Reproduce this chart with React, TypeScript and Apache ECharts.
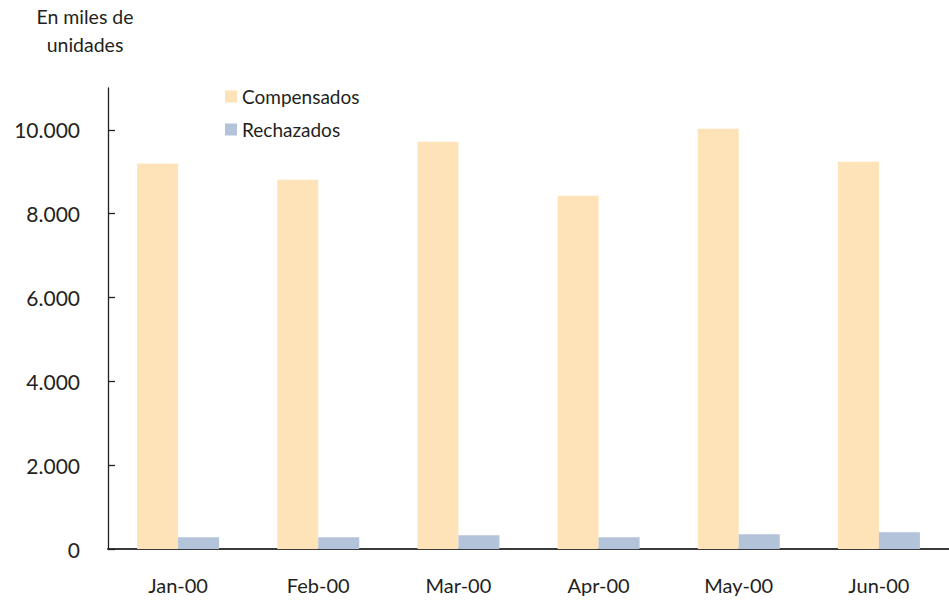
import React, { useEffect, useRef } from "react";
import * as echarts from "echarts";

const months = ["Jan-00", "Feb-00", "Mar-00", "Apr-00", "May-00", "Jun-00"];
const compensados = [9200, 8810, 9720, 8430, 10030, 9240];
const rechazados = [280, 280, 330, 280, 350, 400];
const yTicks = [0, 2000, 4000, 6000, 8000, 10000];

const FONT = "Lato, 'Open Sans', sans-serif";

export default function App() {
  const ref = useRef<HTMLDivElement>(null);

  useEffect(() => {
    if (!ref.current) return;
    const chart = echarts.init(ref.current, null, { renderer: "svg" });
    chart.setOption({
      animation: false,
      backgroundColor: "#ffffff",
      textStyle: { fontFamily: FONT },
      graphic: [
        {
          type: "text",
          x: 85,
          y: 2,
          style: {
            text: "En miles de\nunidades",
            fontFamily: FONT,
            fontSize: 19.5,
            lineHeight: 28,
            fill: "#231f20",
            align: "center",
            verticalAlign: "top",
          },
        },
      ],
      legend: {
        orient: "vertical",
        left: 220,
        top: 82,
        itemWidth: 12,
        itemHeight: 12,
        itemGap: 14,
        icon: "rect",
        textStyle: { fontFamily: FONT, fontSize: 19, color: "#231f20" },
        data: ["Compensados", "Rechazados"],
      },
      grid: { left: 108, right: -4, top: 88, bottom: 58, containLabel: false },
      xAxis: {
        type: "category",
        data: months,
        axisLine: { lineStyle: { color: "#3a3a3a", width: 2 } },
        axisTick: { show: false },
        axisLabel: { fontFamily: FONT, fontSize: 20, color: "#231f20", margin: 26 },
      },
      yAxis: {
        type: "value",
        min: 0,
        max: 11000,
        interval: 2000,
        splitLine: { show: false },
        axisLine: { show: true, lineStyle: { color: "#231f20", width: 1.3 } },
        axisTick: {
          show: true,
          inside: true,
          length: 7,
          customValues: yTicks,
          lineStyle: { color: "#231f20", width: 1.3 },
        },
        axisLabel: {
          fontFamily: FONT,
          fontSize: 21,
          color: "#231f20",
          margin: 28,
          customValues: yTicks,
          formatter: (v: number) => v.toLocaleString("de-DE"),
        },
      },
      series: [
        {
          name: "Compensados",
          type: "bar",
          data: compensados,
          barWidth: 41,
          barGap: "0%",
          itemStyle: { color: "#fee3b8" },
        },
        {
          name: "Rechazados",
          type: "bar",
          data: rechazados,
          barWidth: 41,
          barGap: "0%",
          itemStyle: { color: "#b3c3d9" },
        },
      ],
    });
    return () => chart.dispose();
  }, []);

  return (
    <div
      ref={ref}
      style={{ position: "absolute", left: 0, top: 0, width: 949, height: 607 }}
    />
  );
}
